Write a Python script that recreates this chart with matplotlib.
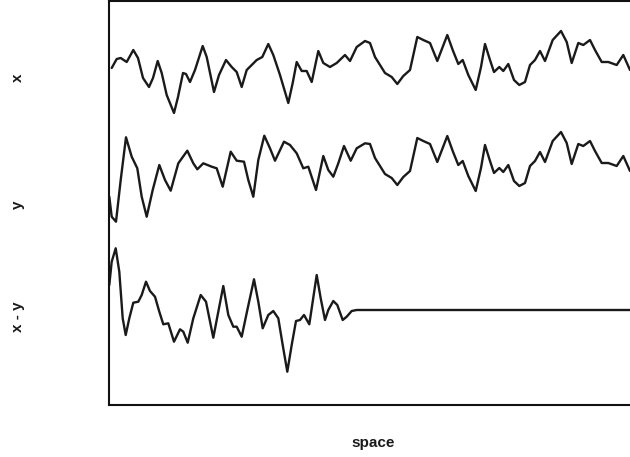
import matplotlib
matplotlib.use("Agg")
import matplotlib.pyplot as plt

# ---- data (space position, signal amplitude) ----
x_space = [2.7, 7.7, 11.7, 17.7, 24.3, 29, 34, 40, 44, 48.7, 52.7, 57.7, 65, 69, 74, 77, 81, 86,
           93.7, 97.7, 105, 110, 117, 122.7, 127.7, 132.7, 137.7, 142.7, 147.7, 153.3, 159.3,
           164.3, 171, 179.3, 183.7, 187.7, 192.7, 197.7, 202.7, 209.3, 214.3, 221, 227.7, 236,
           241, 247.7, 256, 261, 266, 276, 282.7, 288.3, 294.3, 301, 308.3, 314.3, 321, 328.3,
           338.3, 343.7, 349.3, 353.7, 359.3, 366.7, 372, 376, 381, 385, 390.3, 394.3, 399.3,
           405, 410.3, 416, 421, 426, 431, 436, 443.7, 452, 457.7, 462.7, 469.3, 474.3, 481,
           486, 492.7, 499.3, 507.7, 514.3, 521]
x_vals = [-3, 6, 7, 3, 15, 7, -13, -22, -13, 4, -8, -30, -48, -32, -8, -9, -17, -5, 19, 8, -27,
          -10, 5, -2, -7, -22, -5, 0, 5, 8, 21, 10, -10, -38, -18, 3, -6, -6, -17, 14, 2, -2, 2,
          10, 4, 18, 24, 22, 8, -8, -12, -19, -11, -5, 28, 25, 22, 4, 30, 15, 1, 5, -10, -25,
          -2, 21, 5, -7, -2, -6, 1, -15, -20, -17, 0, 5, 14, 4, 25, 34, 23, 2, 22, 20, 25, 15,
          3, 3, 0, 10, -5]

y_space = [0.3, 2.7, 7, 11.7, 17, 22.7, 28.3, 32.7, 37.7, 43.7, 50.3, 56, 61.7, 69.3, 78.3,
           84.3, 88.3, 94.3, 102.7, 107.7, 113.7, 121.7, 127.7, 135, 139.3, 144.3, 149.3, 155.3,
           161, 166, 175, 181, 187.7, 194.3, 199.3, 207, 214.3, 219.3, 224.3, 229.3, 235, 241.7,
           247.7, 256, 261,
           266, 276, 282.7, 288.3, 294.3, 301, 308.3, 314.3, 321, 328.3, 338.3, 343.7, 349.3,
           353.7, 359.3, 366.7, 372, 376, 381, 385, 390.3, 394.3, 399.3, 405, 410.3, 416, 421,
           426, 431, 436, 443.7, 452, 457.7, 462.7, 469.3, 474.3, 481, 486, 492.7, 499.3, 507.7,
           514.3, 521]
y_vals = [-30.7, -50.7, -55.7, -14, 28.7, 9.3, -2.3, -30.7, -50.7, -24, 1, -14, -24.7, 2.7,
          15.3, 2.7, -3.3, 2.7, -0.7, -2.3, -20.7, 14.3, 5.3, 4.3, -14, -30.7, 6, 30.3, 17.7,
          5.3, 24.3, 21, 12.7, -2.3, -0.7, -24, 10, -4, -10.7, 2.7, 20, 5.3, 17.7, 22.7, 22,
          8, -8, -12, -19, -11, -5, 28, 25, 22, 4, 30, 15, 1, 5, -10, -25, -2, 21, 5, -7, -2,
          -6, 1, -15, -20, -17, 0, 5, 14, 4, 25, 34, 23, 2, 22, 20, 25, 15, 3, 3, 0, 10, -5]

d_space = [0.3, 2.7, 6.7, 10.3, 13.7, 16.7, 20.3, 24.3, 29.3, 32.7, 37, 41, 46, 50.3, 54.3,
           59.3, 65, 71, 74.3, 78.7, 84.3, 91.7, 97, 104.3, 109.3, 114.3, 119.3, 124.3, 127.7,
           132.7, 138.7, 145, 149.3, 153.7, 159.3, 164.3, 169.3, 173.7, 178.3, 182.7, 187, 191,
           195, 200.3, 207.7, 211.7, 216, 219.3, 224.3, 228.3, 233.7, 237.7, 242.7, 247.7, 521]
d_vals = [25, 48.3, 61.7, 38.3, -8.3, -25, -8.3, 7.3, 8.3, 15, 28.3, 19, 13.3, -1.7, -14.3,
          -13.3, -31.7, -19.3, -21.7, -32.7, -8.3, 15, 8.3, -27.7, -1.7, 24, -5, -16.7, -16.7,
          -26.7, 1.7, 30.7, 8.3, -18.3, -5, -1, -8.3, -35, -61.7, -35, -11, -10, -5, -14.3, 35,
          11.7, -10, 0, 9, 5, -10, -6.7, -1, 0, 0]

labels = ["x", "y", "x - y"]

# ---- layout ----
W, H = 630, 457
fig = plt.figure(figsize=(W / 100, H / 100), dpi=100)
ax = fig.add_axes([109 / W, (H - 405) / H, 531 / W, 404 / H])
ax.set_xlim(0, 531)
ax.set_ylim(0, 404)

levels = [340, 239, 95]
col = "#1a1a1a"
for sp, vals, lev in zip([x_space, y_space, d_space], [x_vals, y_vals, d_vals], levels):
    ax.plot(sp, [v + lev for v in vals], color=col, lw=1.7,
            solid_joinstyle="round", solid_capstyle="round")

for s in ["left", "bottom", "top"]:
    ax.spines[s].set_linewidth(1.5)
    ax.spines[s].set_color("#111111")
ax.spines["right"].set_visible(False)
ax.set_xticks([])
ax.set_yticks([])

font = dict(family=["Liberation Sans", "DejaVu Sans"], fontsize=11, color="#1a1a1a",
            fontweight="bold")
label_y = [78, 205, 317]
for lab, py in zip(labels, label_y):
    fig.text(18 / W, 1 - py / H, lab, rotation=90, ha="center", va="center", **font)
fig.text(373 / W, 1 - 443 / H, "space", ha="center", va="center", **font)

fig.savefig("out.png", dpi=100)
